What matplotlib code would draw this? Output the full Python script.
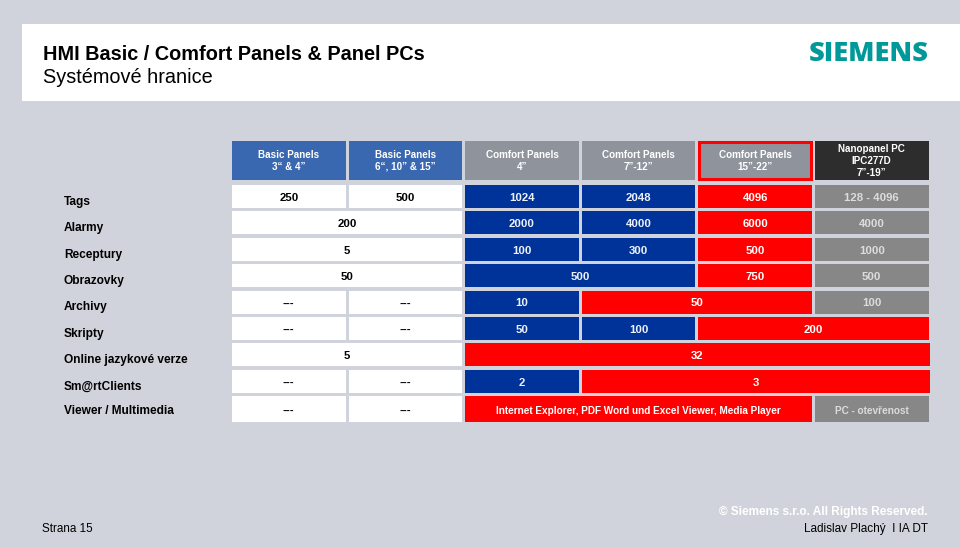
import matplotlib
matplotlib.use("Agg")
import matplotlib.pyplot as plt
from matplotlib.patches import Rectangle

# ---------------- data ----------------
title = "HMI Basic / Comfort Panels & Panel PCs"
subtitle = "Systémové hranice"
col_headers = ["Basic Panels\n3“ & 4”", "Basic Panels\n6“, 10” & 15”", "Comfort Panels\n4”",
               "Comfort Panels\n7”-12”", "Comfort Panels\n15”-22”", "Nanopanel PC\nIPC277D\n7”-19”"]
header_styles = ["hb", "hb", "hg", "hg", "hr", "hd"]
row_labels = ["Tags", "Alarmy", "Receptury", "Obrazovky", "Archivy", "Skripty",
              "Online jazykové verze", "Sm@rtClients", "Viewer / Multimedia"]
# each row: (text, column span, style)
tags = [("250", 1, "w"), ("500", 1, "w"), ("1024", 1, "b"), ("2048", 1, "b"), ("4096", 1, "r"), ("128 - 4096", 1, "g")]
alarmy = [("200", 2, "w"), ("2000", 1, "b"), ("4000", 1, "b"), ("6000", 1, "r"), ("4000", 1, "g")]
receptury = [("5", 2, "w"), ("100", 1, "b"), ("300", 1, "b"), ("500", 1, "r"), ("1000", 1, "g")]
obrazovky = [("50", 2, "w"), ("500", 2, "b"), ("750", 1, "r"), ("500", 1, "g")]
archivy = [("---", 1, "w"), ("---", 1, "w"), ("10", 1, "b"), ("50", 2, "r"), ("100", 1, "g")]
skripty = [("---", 1, "w"), ("---", 1, "w"), ("50", 1, "b"), ("100", 1, "b"), ("200", 2, "r")]
online = [("5", 2, "w"), ("32", 4, "r")]
smartclients = [("---", 1, "w"), ("---", 1, "w"), ("2", 1, "b"), ("3", 3, "r")]
viewer = [("---", 1, "w"), ("---", 1, "w"),
          ("Internet Explorer, PDF Word und Excel Viewer, Media Player", 3, "r"),
          ("PC - otevřenost", 1, "g")]
rows = [tags, alarmy, receptury, obrazovky, archivy, skripty, online, smartclients, viewer]
footer_left = "Strana 15"
footer_copy = "© Siemens s.r.o. All Rights Reserved."
footer_author = "Ladislav Plachý  I IA DT"

# ---------------- style ----------------
BG = "#d0d3dc"
cell_fill = {"w": "#ffffff", "b": "#00339a", "r": "#ff0000", "g": "#878787"}
cell_text = {"w": "#000000", "b": "#eef1f8", "r": "#ffffff", "g": "#dcdcdc"}
head_fill = {"hb": "#3a68b0", "hg": "#8f949c", "hr": "#8f949c", "hd": "#2d2d2d"}
FONT = "Liberation Sans"

fig = plt.figure(figsize=(9.6, 5.48), dpi=100, facecolor=BG)
ax = fig.add_axes([0, 0, 1, 1])
ax.set_xlim(0, 960)
ax.set_ylim(548, 0)
ax.axis("off")
ax.set_facecolor(BG)

# title band
ax.add_patch(Rectangle((22, 24), 960 - 22, 77, facecolor="white", edgecolor="none"))
ax.text(43, 60, title, fontsize=14.3, fontweight="bold", family=FONT, va="baseline", ha="left", color="black")
ax.text(43, 83, subtitle, fontsize=14.3, family=FONT, va="baseline", ha="left", color="black")
ax.text(929, 61, "SIEMENS", fontsize=19.5, fontweight="heavy", family="Open Sans", va="baseline", ha="right",
        color="#009999")

# grid geometry
x0, pitch, cw = 232, 116.6, 113.5
y0, rpitch, rh = 185, 26.4, 23

# headers
for i, (h, s) in enumerate(zip(col_headers, header_styles)):
    left = x0 + i * pitch
    if s == "hr":
        ax.add_patch(Rectangle((left + 1, 142), cw - 2, 37, facecolor=head_fill[s], edgecolor="#ff0000",
                               linewidth=2.2))
    else:
        ax.add_patch(Rectangle((left, 141), cw, 39, facecolor=head_fill[s], edgecolor="none"))
    ax.text(left + cw / 2, 160.5, h, fontsize=7.1, fontweight="bold", family=FONT, color="white",
            ha="center", va="center", linespacing=1.25)

# rows
for r, (lab, cells) in enumerate(zip(row_labels, rows)):
    top = y0 + r * rpitch
    last = r == len(rows) - 1
    h = 26 if last else rh
    ax.text(64, top + (18 if last else 19.8), lab, fontsize=8.6, fontweight="bold", family=FONT, ha="left",
            va="baseline", color="black")
    c = 0
    for txt, span, st in cells:
        left = x0 + c * pitch
        w = (span - 1) * pitch + cw
        if c + span == 6 and span > 2:
            w += 1
        ax.add_patch(Rectangle((left, top), w, h, facecolor=cell_fill[st], edgecolor="none"))
        fs = 7.2 if len(txt) > 12 else 8.2
        ax.text(left + w / 2, top + h / 2 + 0.3, txt, fontsize=fs, fontweight="bold", family=FONT,
                color=cell_text[st], ha="center", va="center_baseline")
        c += span

# footer
ax.text(42, 532, footer_left, fontsize=8.4, family=FONT, ha="left", va="baseline", color="black")
ax.text(928, 515, footer_copy, fontsize=8.5, fontweight="bold", family=FONT, ha="right", va="baseline",
        color="white")
ax.text(928, 532, footer_author, fontsize=8.5, family=FONT, ha="right", va="baseline", color="black")

fig.savefig("out.png", dpi=100, facecolor=BG)
